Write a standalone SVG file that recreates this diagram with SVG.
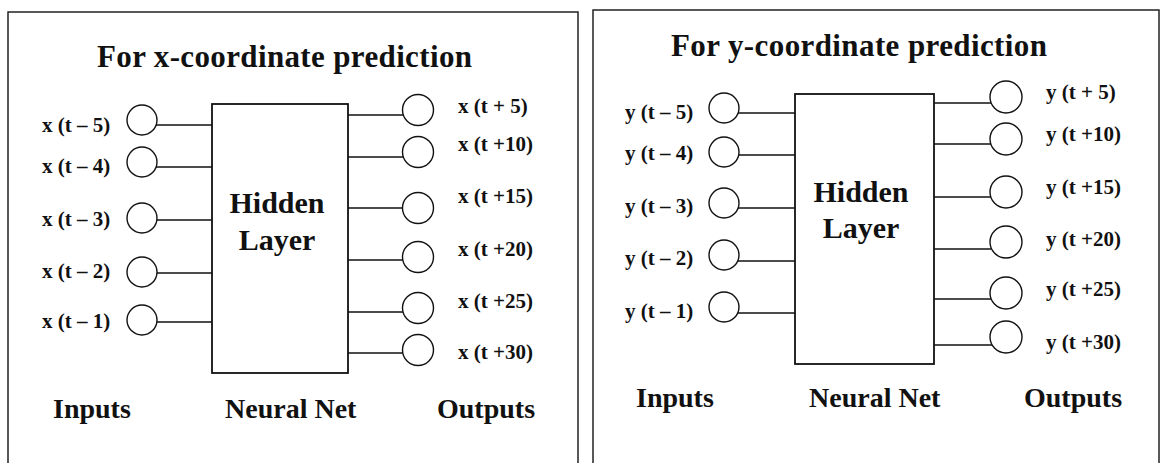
<svg xmlns="http://www.w3.org/2000/svg" width="1161" height="463" viewBox="0 0 1161 463">
<style>
text{font-family:"Liberation Serif","Times New Roman",serif;font-weight:bold;fill:#111}
.title{font-size:31px}
.lbl{font-size:21px}
.cap{font-size:28px}
.hid{font-size:30px;text-anchor:middle}
.frame{fill:none;stroke:#222;stroke-width:1.5}
.box{fill:#fff;stroke:#111;stroke-width:1.8}
.node{fill:#fff;stroke:#111;stroke-width:1.4}
.conn line{stroke:#111;stroke-width:1.5}
</style>
<rect width="1161" height="463" fill="#fff"/>
<path class="frame" d="M8,463 V12 H578 V463"/>
<path class="frame" d="M593,463 V10 H1159 V463"/>

<!-- Left panel -->
<text class="title" x="97" y="67" textLength="375" lengthAdjust="spacing">For x-coordinate prediction</text>
<g class="conn" id="left-connectors">
<line x1="156" y1="125" x2="212" y2="125"/>
<line x1="156" y1="167" x2="212" y2="167"/>
<line x1="157" y1="220" x2="212" y2="220"/>
<line x1="157" y1="273" x2="212" y2="273"/>
<line x1="157" y1="322" x2="212" y2="322"/>
<line x1="348" y1="115" x2="403" y2="115"/>
<line x1="348" y1="157" x2="403" y2="157"/>
<line x1="348" y1="208" x2="402.5" y2="208"/>
<line x1="348" y1="260" x2="403" y2="260"/>
<line x1="348" y1="312" x2="403" y2="312"/>
<line x1="348" y1="353" x2="403" y2="353"/>
</g>
<g id="left-hidden"><rect class="box" x="212" y="104" width="136" height="269"/>
<text class="hid" x="277" y="213">Hidden</text><text class="hid" x="277" y="250">Layer</text></g>
<g id="left-in5"><circle class="node" cx="142" cy="120" r="15"/><text class="lbl" x="42" y="132">x (t – 5)</text></g>
<g id="left-in4"><circle class="node" cx="142" cy="162" r="15"/><text class="lbl" x="42" y="173">x (t – 4)</text></g>
<g id="left-in3"><circle class="node" cx="142" cy="218" r="15"/><text class="lbl" x="42" y="226">x (t – 3)</text></g>
<g id="left-in2"><circle class="node" cx="142" cy="272" r="15"/><text class="lbl" x="42" y="278">x (t – 2)</text></g>
<g id="left-in1"><circle class="node" cx="142" cy="320" r="15"/><text class="lbl" x="42" y="328">x (t – 1)</text></g>
<g id="left-out5"><circle class="node" cx="418" cy="110" r="15.5"/><text class="lbl" x="458" y="113">x (t + 5)</text></g>
<g id="left-out10"><circle class="node" cx="418" cy="152" r="15.5"/><text class="lbl" x="458" y="151">x (t +10)</text></g>
<g id="left-out15"><circle class="node" cx="418" cy="208" r="15.5"/><text class="lbl" x="458" y="203">x (t +15)</text></g>
<g id="left-out20"><circle class="node" cx="418" cy="257" r="15.5"/><text class="lbl" x="458" y="256">x (t +20)</text></g>
<g id="left-out25"><circle class="node" cx="418" cy="308" r="15.5"/><text class="lbl" x="458" y="308">x (t +25)</text></g>
<g id="left-out30"><circle class="node" cx="418" cy="350" r="15.5"/><text class="lbl" x="458" y="359">x (t +30)</text></g>
<text class="cap" x="53" y="418">Inputs</text>
<text class="cap" x="225" y="418">Neural Net</text>
<text class="cap" x="437" y="418">Outputs</text>

<!-- Right panel -->
<text class="title" x="671" y="56" textLength="376" lengthAdjust="spacing">For y-coordinate prediction</text>
<g class="conn" id="right-connectors">
<line x1="738" y1="113" x2="795" y2="113"/>
<line x1="738.5" y1="155" x2="795" y2="155"/>
<line x1="738" y1="208" x2="795" y2="208"/>
<line x1="738" y1="261" x2="795" y2="261"/>
<line x1="738" y1="313" x2="795" y2="313"/>
<line x1="934" y1="103" x2="991" y2="103"/>
<line x1="934" y1="144" x2="991" y2="144"/>
<line x1="934" y1="197" x2="991" y2="197"/>
<line x1="934" y1="249" x2="991" y2="249"/>
<line x1="934" y1="299" x2="991" y2="299"/>
<line x1="934" y1="345" x2="992" y2="345"/>
</g>
<g id="right-hidden"><rect class="box" x="795" y="94" width="139" height="270"/>
<text class="hid" x="861" y="202">Hidden</text><text class="hid" x="861" y="238">Layer</text></g>
<g id="right-in5"><circle class="node" cx="724" cy="108" r="15"/><text class="lbl" x="625" y="119">y (t – 5)</text></g>
<g id="right-in4"><circle class="node" cx="724" cy="152" r="15"/><text class="lbl" x="625" y="160">y (t – 4)</text></g>
<g id="right-in3"><circle class="node" cx="724" cy="203" r="15"/><text class="lbl" x="625" y="213">y (t – 3)</text></g>
<g id="right-in2"><circle class="node" cx="724" cy="255" r="15"/><text class="lbl" x="625" y="265">y (t – 2)</text></g>
<g id="right-in1"><circle class="node" cx="724" cy="307" r="15"/><text class="lbl" x="625" y="318">y (t – 1)</text></g>
<g id="right-out5"><circle class="node" cx="1006" cy="97" r="16"/><text class="lbl" x="1046" y="99">y (t + 5)</text></g>
<g id="right-out10"><circle class="node" cx="1006" cy="139" r="16"/><text class="lbl" x="1046" y="141">y (t +10)</text></g>
<g id="right-out15"><circle class="node" cx="1006" cy="192" r="16"/><text class="lbl" x="1046" y="194">y (t +15)</text></g>
<g id="right-out20"><circle class="node" cx="1006" cy="242" r="16"/><text class="lbl" x="1046" y="246">y (t +20)</text></g>
<g id="right-out25"><circle class="node" cx="1006" cy="293" r="16"/><text class="lbl" x="1046" y="296">y (t +25)</text></g>
<g id="right-out30"><circle class="node" cx="1006" cy="337" r="16"/><text class="lbl" x="1046" y="349">y (t +30)</text></g>
<text class="cap" x="636" y="407">Inputs</text>
<text class="cap" x="809" y="407">Neural Net</text>
<text class="cap" x="1024" y="407">Outputs</text>
</svg>
